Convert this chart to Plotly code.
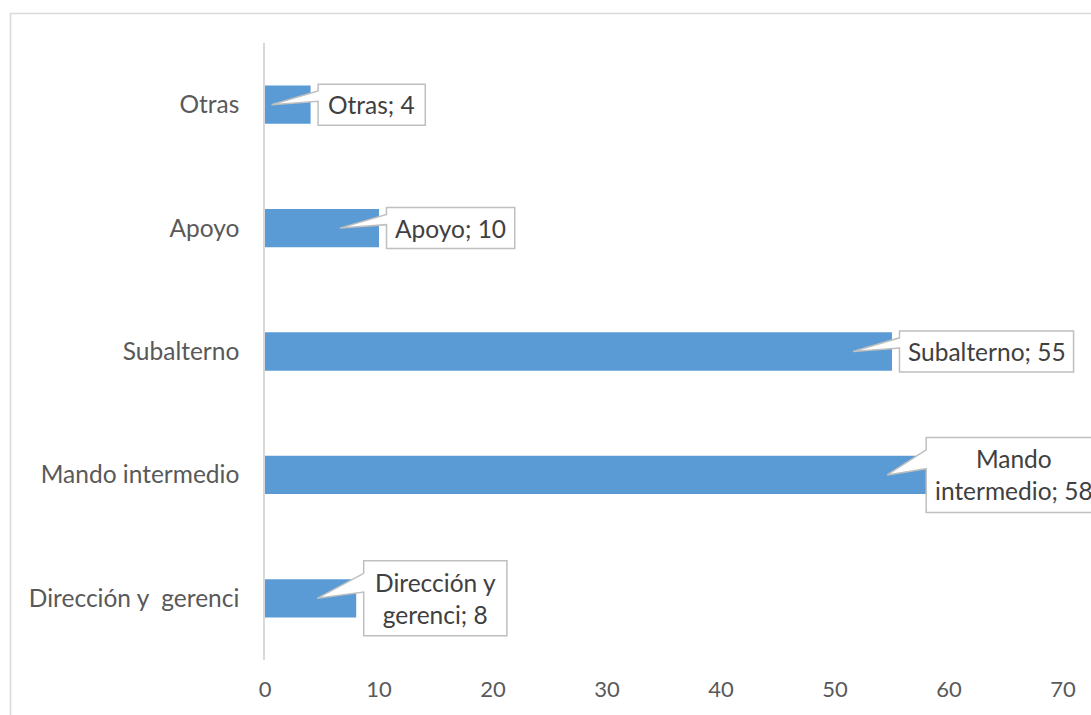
import textwrap
import plotly.graph_objects as go

# Data
categories = ["Dirección y  gerenci", "Mando intermedio", "Subalterno", "Apoyo", "Otras"]
values = [8, 58, 55, 10, 4]
x_ticks = [0, 10, 20, 30, 40, 50, 60, 70]

# Page / plot geometry (pixels)
W, H = 1091, 715
ML, MR, MT, MB = 265, 28, 43, 55
PW, PH = W - ML - MR, H - MT - MB
X_MAX = 70
Y_LO, Y_HI = -0.5, len(categories) - 0.5

BAR_COLOR = "#5b9bd5"
AXIS_GRAY = "#d9d9d9"
CALLOUT_EDGE = "#bfbfbf"
FONT = "Lato"
LABEL_SIZE = 24.5


def px_x(v):
    return ML + v * PW / X_MAX


def px_y(i):
    return MT + (Y_HI - i) * PH / (Y_HI - Y_LO)


def paper_x(px):
    return (px - ML) / PW


def paper_y(py):
    return (H - MB - py) / PH


def text_width(s, size):
    """Rough advance width of a string set in Lato."""
    em = 0.0
    for ch in s:
        if ch in "il;:,. ":
            em += 0.25
        elif ch in "tfrj":
            em += 0.36
        elif ch in "mw":
            em += 0.82
        elif ch.isdigit():
            em += 0.58
        elif ch == "S":
            em += 0.5
        elif ch in "OD":
            em += 0.76
        elif ch == "M":
            em += 0.85
        elif ch.isupper():
            em += 0.68
        else:
            em += 0.54
    return em * size


fig = go.Figure(
    go.Bar(
        x=values,
        y=list(range(len(categories))),
        orientation="h",
        width=0.31,
        marker=dict(color=BAR_COLOR, line=dict(width=0)),
        hoverinfo="skip",
    )
)

# Callout data labels ("Categoría; valor") with a wedge pointing into the bar
CHART_RIGHT = 1101  # right edge of the chart area, just past the page
shapes = []
annotations = []
for i, (cat, val) in enumerate(zip(categories, values)):
    lines = textwrap.wrap(f"{cat}; {val}", 15)
    bw = max(text_width(s, LABEL_SIZE) for s in lines) + 18
    bh = 41 if len(lines) == 1 else 75
    bar_end = px_x(val)
    cy = px_y(i)
    left = min(bar_end + 7.5, CHART_RIGHT - bw)
    right = left + bw
    top = cy - bh / 2
    bottom = cy + bh / 2
    tip_x, tip_y = bar_end - 39, cy
    b1, b2 = top + bh * 2 / 12, top + bh * 5 / 12
    pts = [(left, top), (right, top), (right, bottom), (left, bottom),
           (left, b2), (tip_x, tip_y), (left, b1)]
    path = "M " + " L ".join(f"{paper_x(a):.5f},{paper_y(b):.5f}" for a, b in pts) + " Z"
    shapes.append(dict(type="path", xref="paper", yref="paper", path=path,
                       fillcolor="white", line=dict(color=CALLOUT_EDGE, width=1.5),
                       layer="above"))
    annotations.append(dict(xref="paper", yref="paper",
                            x=paper_x((left + right) / 2), y=paper_y(cy),
                            xanchor="center", yanchor="middle",
                            text="<br>".join(lines), showarrow=False,
                            font=dict(family=FONT, size=LABEL_SIZE, color="#404040")))

# Outer chart-area border
shapes.append(dict(type="rect", xref="paper", yref="paper",
                   x0=paper_x(10.5), x1=paper_x(1110), y0=paper_y(730), y1=paper_y(13.5),
                   line=dict(color=AXIS_GRAY, width=1.5), fillcolor="rgba(0,0,0,0)",
                   layer="below"))

fig.update_layout(
    width=W, height=H,
    margin=dict(l=ML, r=MR, t=MT, b=MB, pad=0),
    paper_bgcolor="white", plot_bgcolor="white",
    showlegend=False,
    shapes=shapes,
    annotations=annotations,
    font=dict(family=FONT, color="#595959", size=LABEL_SIZE),
)
fig.update_xaxes(
    range=[0, X_MAX], tickvals=x_ticks, showgrid=False, zeroline=False,
    showline=False, ticks="", ticklabelstandoff=14,
    tickfont=dict(family=FONT, size=22, color="#595959"),
)
fig.update_yaxes(
    range=[Y_LO, Y_HI], tickvals=list(range(len(categories))), ticktext=categories,
    showgrid=False, zeroline=False, showline=True, linecolor=AXIS_GRAY, linewidth=1.5,
    ticks="", ticklabelstandoff=19,
    tickfont=dict(family=FONT, size=LABEL_SIZE, color="#595959"),
)

fig.write_html("out.html")
